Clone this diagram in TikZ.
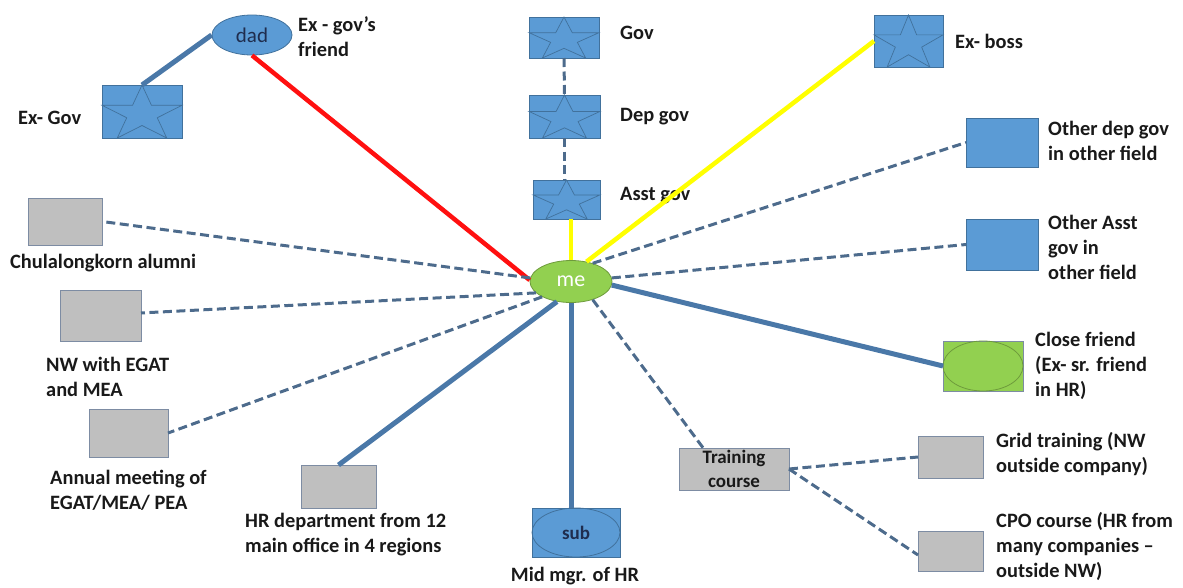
\documentclass[tikz,border=0pt]{standalone}
\usepackage{fontspec}
\setmainfont{Carlito}
\usetikzlibrary{calc,shapes.geometric}

\definecolor{boxblue}{HTML}{5B9BD5}
\definecolor{boxblueedge}{HTML}{41719C}
\definecolor{boxgray}{HTML}{BFBFBF}
\definecolor{boxgrayedge}{HTML}{7D8CA3}
\definecolor{megreen}{HTML}{92D050}
\definecolor{megreenedge}{HTML}{6E9B3C}
\definecolor{linkblue}{HTML}{4A78A8}
\definecolor{dashblue}{HTML}{4D6B8C}
\definecolor{tiered}{HTML}{FF1010}
\definecolor{tieyellow}{HTML}{FFFF00}
\definecolor{navytext}{HTML}{1F2D4E}

% five-pointed star stretched to fill a rectangular node
\newcommand\drawstar[1]{%
  \path[starline] let \p1=(#1.south west), \p2=(#1.north east),
    \n1={\x2-\x1}, \n2={\y2-\y1} in
    ({\x1+0.5*\n1},{\y1+\n2}) -- ({\x1+0.618*\n1},{\y1+0.618*\n2}) --
    ({\x1+\n1},{\y1+0.618*\n2}) -- ({\x1+0.691*\n1},{\y1+0.382*\n2}) --
    ({\x1+0.809*\n1},{\y1}) -- ({\x1+0.5*\n1},{\y1+0.236*\n2}) --
    ({\x1+0.191*\n1},{\y1}) -- ({\x1+0.309*\n1},{\y1+0.382*\n2}) --
    ({\x1},{\y1+0.618*\n2}) -- ({\x1+0.382*\n1},{\y1+0.618*\n2}) -- cycle;}

\begin{document}
\begin{tikzpicture}[x=1pt,y=-1pt,
  box/.style={rectangle, outer sep=0pt, inner sep=0pt, line width=0.8pt},
  bluebox/.style={box, fill=boxblue, draw=boxblueedge},
  graybox/.style={box, fill=boxgray, draw=boxgrayedge},
  starline/.style={draw=boxblueedge, line width=0.7pt},
  lbl/.style={font=\bfseries\fontsize{20.4}{25}\selectfont, align=left,
    anchor=west, inner sep=0pt, text=black!90},
  solidlink/.style={draw=linkblue, line width=5pt},
  dashlink/.style={draw=dashblue, line width=3pt, dash pattern=on 9pt off 4.5pt},
  redlink/.style={draw=tiered, line width=4.5pt},
  yellowlink/.style={draw=tieyellow, line width=4.5pt},
]
\useasboundingbox (0,0) rectangle (1183,587);

% ---- people and groups ----
\node[ellipse, fill=boxblue, draw=boxblueedge, line width=0.8pt, inner sep=0pt,
  minimum width=80, minimum height=40, font=\fontsize{21}{24}\selectfont,
  text=navytext] (dad) at (252,35) {dad};
\node[ellipse, fill=megreen, draw=megreenedge, line width=0.8pt, inner sep=0pt,
  minimum width=82, minimum height=42, font=\fontsize{22}{25}\selectfont,
  text=white] (me) at (571,281.5) {me};

\node[bluebox, minimum width=80, minimum height=53] (exgov) at (142,111.5) {};
\node[bluebox, minimum width=70, minimum height=41] (gov) at (564,37.5) {};
\node[bluebox, minimum width=71, minimum height=43] (depgov) at (564.5,116.5) {};
\node[bluebox, minimum width=67, minimum height=39] (asstgov) at (566.5,199.5) {};
\node[bluebox, minimum width=69, minimum height=52] (exboss) at (908.5,41) {};
\drawstar{exgov}
\drawstar{gov}
\drawstar{depgov}
\drawstar{asstgov}
\drawstar{exboss}

\node[bluebox, minimum width=72, minimum height=49] (otherdep) at (1002,142.5) {};
\node[bluebox, minimum width=72, minimum height=51] (otherasst) at (1002,244.5) {};

\node[box, fill=megreen, draw=boxgrayedge, minimum width=80, minimum height=50]
  (friend) at (983,366) {};
\node[ellipse, draw=megreenedge, line width=0.8pt, inner sep=0pt,
  minimum width=80, minimum height=50] (friendell) at (friend.center) {};

\node[bluebox, minimum width=88, minimum height=49] (sub) at (576,532.5) {};
\node[ellipse, draw=boxblueedge, line width=0.8pt, inner sep=0pt,
  minimum width=88, minimum height=49, text=navytext,
  font=\bfseries\fontsize{19}{22}\selectfont] (subell) at (sub.center) {sub};

\node[graybox, minimum width=110, minimum height=42, align=center,
  font=\bfseries\fontsize{19}{24}\selectfont, text=black!90]
  (training) at (734,469) {Training\\course};
\node[graybox, minimum width=65, minimum height=42] (grid) at (950.5,457) {};
\node[graybox, minimum width=65, minimum height=40] (cpo) at (950.5,551) {};
\node[graybox, minimum width=75, minimum height=43] (hrdept) at (338.5,486.5) {};
\node[graybox, minimum width=79, minimum height=48] (annual) at (128.5,433) {};
\node[graybox, minimum width=81, minimum height=51] (nwegat) at (100.5,315.5) {};
\node[graybox, minimum width=74, minimum height=47] (chula) at (65,221.5) {};

% ---- labels ----
\node[lbl] (ldad) at (298,37) {Ex - gov’s\\friend};
\node[lbl] (lexgov) at (18,118) {Ex- Gov};
\node[lbl] (lgov) at (620,33) {Gov};
\node[lbl] (ldepgov) at (620,117) {Dep gov};
\node[lbl] (lasstgov) at (620,196) {Asst gov};
\node[lbl] (lexboss) at (955,41) {Ex- boss};
\node[lbl] (lotherdep) at (1048,141) {Other dep gov\\in other field};
\node[lbl] (lotherasst) at (1048,247) {Other Asst\\gov in\\other field};
\node[lbl] (lfriend) at (1035,366) {Close friend\\(Ex- sr. friend\\in HR)};
\node[lbl] (lgrid) at (996,454) {Grid training (NW\\outside company)};
\node[lbl] (lcpo) at (996,546) {CPO course (HR from\\many companies –\\outside NW)};
\node[lbl] (lhrdept) at (245,535) {HR department from 12\\main office in 4 regions};
\node[lbl, anchor=center] (lsub) at (575,576) {Mid mgr. of HR};
\node[lbl] (lannual) at (50,490) {Annual meeting of\\EGAT/MEA/ PEA};
\node[lbl] (lnwegat) at (46,377) {NW with EGAT\\and MEA};
\node[lbl] (lchula) at (10,263) {Chulalongkorn alumni};

% ---- ties ----
\draw[solidlink] (dad.west) -- (exgov.north);
\draw[redlink] (dad.south) -- (me.178);
\draw[dashlink] (gov.south) -- (depgov.north);
\draw[dashlink] (depgov.south) -- (depgov.south |- asstgov.north);
\draw[yellowlink] (me.north |- asstgov.south) -- (me.north);
\draw[yellowlink] (me.52) -- (exboss.west);
\draw[dashlink] (me.40) -- (otherdep.west);
\draw[dashlink] (me.5) -- (otherasst.west);
\draw[solidlink] (me.-5) -- (friend.west);
\draw[dashlink] (me.-40) -- ($(training.north west)!0.22!(training.north east)$);
\draw[dashlink] (training.east) -- (grid.west);
\draw[dashlink] (training.east) -- ($(cpo.north west)!0.6!(cpo.south west)$);
\draw[solidlink] (me.south) -- (me.south |- sub.north);
\draw[solidlink] (me.235) -- (hrdept.north);
\draw[dashlink] (me.208) -- (annual.east);
\draw[dashlink] (me.198) -- ($(nwegat.north east)!0.45!(nwegat.south east)$);
\draw[dashlink] (me.175) -- (chula.east);
\end{tikzpicture}
\end{document}
